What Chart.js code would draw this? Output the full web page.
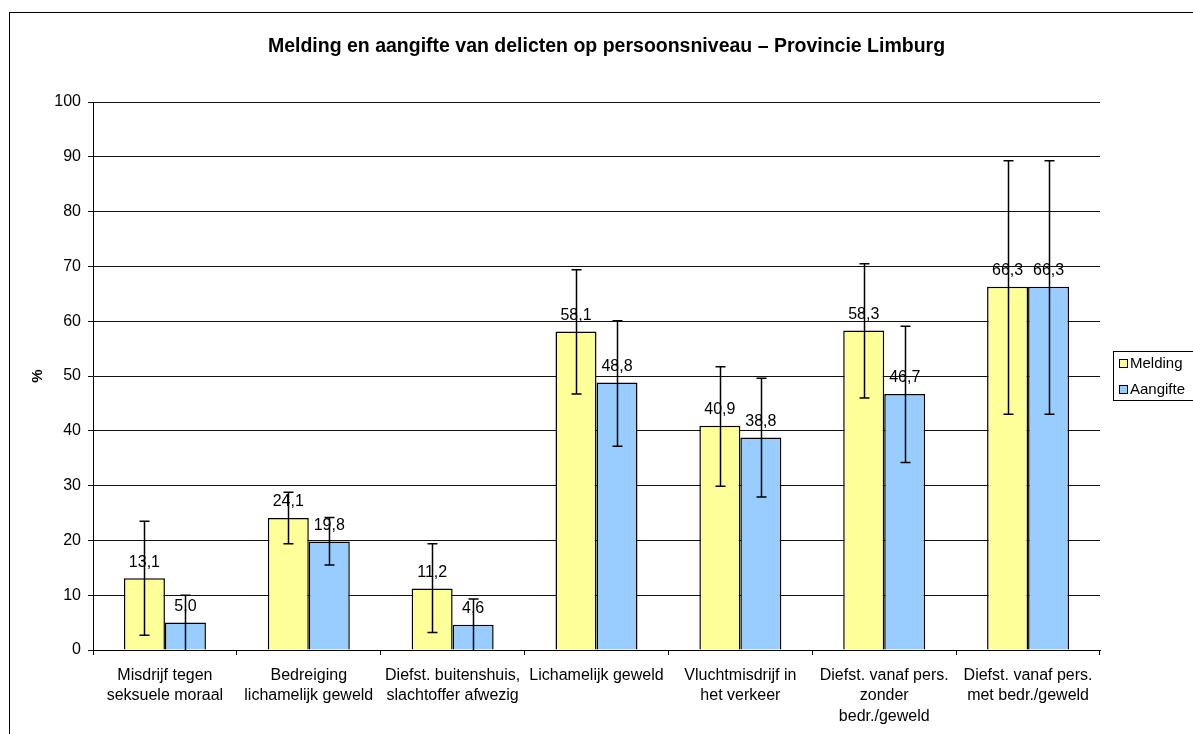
<!DOCTYPE html>
<html>
<head>
<meta charset="utf-8">
<script src="https://cdn.jsdelivr.net/npm/chart.js@4.4.1/dist/chart.umd.min.js"></script>
<style>
  html, body { margin: 0; padding: 0; background: #fff; }
  #wrap { width: 1193px; height: 734px; }
</style>
</head>
<body>
<div id="wrap"><canvas id="delictChart"></canvas></div>
<script>
const categories = [
    ['Misdrijf tegen', 'seksuele moraal'],
    ['Bedreiging', 'lichamelijk geweld'],
    ['Diefst. buitenshuis,', 'slachtoffer afwezig'],
    'Lichamelijk geweld',
    ['Vluchtmisdrijf in', 'het verkeer'],
    ['Diefst. vanaf pers.', 'zonder', 'bedr./geweld'],
    ['Diefst. vanaf pers.', 'met bedr./geweld']
];
const melding = [13.1, 24.1, 11.2, 58.1, 40.9, 58.3, 66.3];
const meldingLow = [2.7, 19.4, 3.2, 46.7, 29.9, 46.0, 43.0];
const meldingHigh = [23.5, 28.8, 19.4, 69.4, 51.7, 70.5, 89.3];
const aangifte = [5.0, 19.8, 4.6, 48.8, 38.8, 46.7, 66.3];
const aangifteLow = [0, 15.5, 0, 37.2, 27.9, 34.2, 43.0];
const aangifteHigh = [10.0, 24.2, 9.3, 60.1, 49.6, 59.1, 89.3];

const FONT = '"Liberation Sans", Arial, sans-serif';
Chart.defaults.font.family = FONT;
Chart.defaults.font.size = 16;
Chart.defaults.color = '#000';

// outer frame, drawn first
const framePlugin = {
    id: 'frame',
    beforeDraw(chart) {
        const ctx = chart.ctx;
        ctx.save();
        ctx.fillStyle = '#fff';
        ctx.fillRect(0, 0, chart.width, chart.height);
        ctx.strokeStyle = '#000';
        ctx.lineWidth = 1;
        ctx.strokeRect(9.5, 12.5, chart.width + 20, chart.height + 20);
        ctx.restore();
    }
};

// value labels and error bars
const errorPlugin = {
    id: 'errorBars',
    afterDatasetsDraw(chart) {
        const ctx = chart.ctx;
        const yScale = chart.scales.y;
        ctx.save();
        chart.data.datasets.forEach((ds, i) => {
            const meta = chart.getDatasetMeta(i);
            meta.data.forEach((bar, j) => {
                ctx.fillStyle = '#000';
                ctx.font = '16px ' + FONT;
                ctx.textAlign = 'center';
                ctx.textBaseline = 'middle';
                ctx.fillText(ds.data[j].toFixed(1).replace('.', ','), bar.x, bar.y - 16);
            });
        });
        chart.data.datasets.forEach((ds, i) => {
            const meta = chart.getDatasetMeta(i);
            meta.data.forEach((bar, j) => {
                const yl = yScale.getPixelForValue(ds.errLow[j]);
                const yh = yScale.getPixelForValue(ds.errHigh[j]);
                const x = Math.round(bar.x) + 0.5;
                ctx.strokeStyle = '#000';
                ctx.lineWidth = 1.5;
                ctx.beginPath();
                ctx.moveTo(x, yl);
                ctx.lineTo(x, yh);
                ctx.moveTo(x - 5, yh);
                ctx.lineTo(x + 5, yh);
                if (ds.errLow[j] > 0) {
                    ctx.moveTo(x - 5, yl);
                    ctx.lineTo(x + 5, yl);
                }
                ctx.stroke();
            });
        });
        ctx.restore();
    }
};

// boxed legend at the right
const legendPlugin = {
    id: 'boxLegend',
    afterDraw(chart) {
        const ctx = chart.ctx;
        ctx.save();
        ctx.strokeStyle = '#000';
        ctx.lineWidth = 1;
        ctx.strokeRect(1113.5, 351.5, 100, 49);
        chart.data.datasets.forEach((ds, i) => {
            const cy = 363 + i * 26;
            ctx.fillStyle = ds.backgroundColor;
            ctx.fillRect(1119, cy - 4, 8, 8);
            ctx.strokeRect(1119.5, cy - 3.5, 8, 8);
            ctx.fillStyle = '#000';
            ctx.font = '15px ' + FONT;
            ctx.textAlign = 'left';
            ctx.textBaseline = 'middle';
            ctx.fillText(ds.label, 1130, cy + 1);
        });
        ctx.restore();
    }
};

const ctx = document.getElementById('delictChart').getContext('2d');
const delictChart = new Chart(ctx, {
    type: 'bar',
    data: {
        labels: categories,
        datasets: [{
            label: 'Melding',
            data: melding,
            errLow: meldingLow,
            errHigh: meldingHigh,
            backgroundColor: '#FFFF99',
            borderColor: '#000',
            borderWidth: 1.5,
            categoryPercentage: 0.57,
            barPercentage: 1.0
        }, {
            label: 'Aangifte',
            data: aangifte,
            errLow: aangifteLow,
            errHigh: aangifteHigh,
            backgroundColor: '#99CCFF',
            borderColor: '#000',
            borderWidth: 1.5,
            categoryPercentage: 0.57,
            barPercentage: 1.0
        }]
    },
    options: {
        responsive: true,
        maintainAspectRatio: false,
        animation: false,
        layout: { padding: { left: 20, right: 0, top: 0, bottom: 0 } },
        plugins: {
            legend: { display: false },
            tooltip: { enabled: false },
            title: {
                display: true,
                text: 'Melding en aangifte van delicten op persoonsniveau \u2013 Provincie Limburg',
                font: { size: 19.5, weight: 'bold' },
                color: '#000',
                padding: { top: 35, bottom: 43.6 }
            }
        },
        scales: {
            x: {
                grid: { drawOnChartArea: false, drawTicks: true, tickLength: 5, color: '#000' },
                border: { color: '#000' },
                ticks: { maxRotation: 0, autoSkip: false, padding: 10, font: { size: 16, lineHeight: 1.28 } },
                afterFit(scale) { scale.height = 84; }
            },
            y: {
                min: 0,
                max: 100,
                ticks: { stepSize: 10, padding: 7 },
                grid: { color: '#111', tickLength: 5 },
                border: { color: '#000' },
                title: { display: true, text: '%', font: { size: 15, weight: 'bold' }, padding: { top: 9 } },
                afterFit(scale) { scale.width = 73; }
            },
            // reserves the room for the legend on the right
            legendRoom: {
                type: 'linear',
                position: 'right',
                grid: { display: false },
                ticks: { display: false },
                border: { display: false },
                afterFit(scale) { scale.width = 93; }
            }
        }
    },
    plugins: [framePlugin, errorPlugin, legendPlugin]
});
</script>
</body>
</html>
